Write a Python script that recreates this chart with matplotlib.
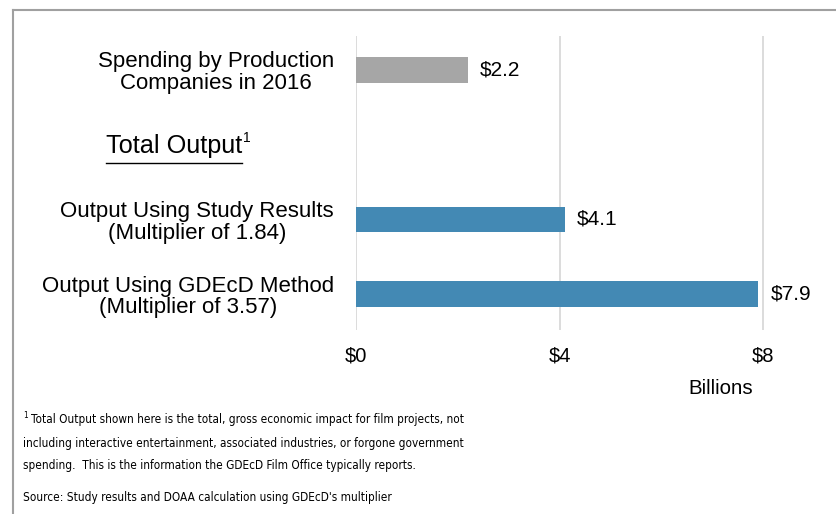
import matplotlib
matplotlib.use('Agg')
import matplotlib.pyplot as plt
from matplotlib.lines import Line2D
from matplotlib import font_manager as fm

plt.rcParams['font.family'] = ['Liberation Sans', 'DejaVu Sans']

# 数据
categories = ['Spending by Production\nCompanies in 2016',
              '',
              'Output Using Study Results\n(Multiplier of 1.84)',
              'Output Using GDEcD Method\n(Multiplier of 3.57)']
values = [2.2, None, 4.1, 7.9]
value_labels = ['$2.2', '', '$4.1', '$7.9']
bar_colors = ['#A6A6A6', None, '#4389B4', '#4389B4']
x_ticks = [0, 4, 8]
x_tick_labels = ['$0', '$4', '$8']

footnote_lines = ['Total Output shown here is the total, gross economic impact for film projects, not',
                  'including interactive entertainment, associated industries, or forgone government',
                  'spending.  This is the information the GDEcD Film Office typically reports.']
source = "Source: Study results and DOAA calculation using GDEcD's multiplier"

# 脚注字体：优先用窄体
foot_family, foot_stretch, foot_size = 'Liberation Sans', 'normal', 9.0
names = {f.name for f in fm.fontManager.ttflist}
condensed = [f.name for f in fm.fontManager.ttflist
             if 'ondensed' in str(f.stretch) or 'Condensed' in f.fname]
if 'Liberation Sans Narrow' in names:
    foot_family, foot_size = 'Liberation Sans Narrow', 10.8
elif any(n == 'DejaVu Sans' for n in condensed):
    foot_family, foot_stretch, foot_size = 'DejaVu Sans', 'condensed', 8.5

W, H = 837, 514
fig = plt.figure(figsize=(W / 100, H / 100), dpi=100)
ax = fig.add_axes([356 / W, 1 - 330 / H, 444 / W, 294 / H])

ypos = list(range(len(categories)))
for y, v, c in zip(ypos, values, bar_colors):
    if v is None:
        continue
    ax.barh(y, v, height=0.34, color=c, zorder=3)

for y, v, lab in zip(ypos, values, value_labels):
    if v is None:
        continue
    ax.text(v + 0.24, y, lab, ha='left', va='center', fontsize=15)

ax.set_xlim(0, 8.72)
ax.set_ylim(3.48, -0.455)
ax.set_xticks(x_ticks)
ax.set_xticklabels(x_tick_labels, fontsize=14.5)
ax.set_yticks(ypos)
ax.set_yticklabels(categories, fontsize=16, linespacing=1.05)
for t in ax.get_yticklabels():
    t.set_multialignment('center')
ax.tick_params(axis='both', length=0)
ax.tick_params(axis='y', pad=16)
ax.tick_params(axis='x', pad=12)
ax.grid(axis='x', color='#D9D9D9', linewidth=1.3, zorder=0)
for s in ax.spines.values():
    s.set_visible(False)

# 小标题 Total Output（带下划线）
fig.text(106 / W, 1 - 146 / H, 'Total Output', ha='left', va='center', fontsize=18.2)
fig.text(243 / W, 1 - 138 / H, '1', ha='left', va='center', fontsize=10)
fig.add_artist(Line2D([106 / W, 242 / W], [1 - 163 / H, 1 - 163 / H],
                      color='black', linewidth=1))

fig.text(721 / W, 1 - 388 / H, 'Billions', ha='center', va='center', fontsize=14.8)

# 脚注
fig.text(23 / W, 1 - 416 / H, '1', ha='left', va='center', fontsize=foot_size * 0.7,
         family=foot_family, stretch=foot_stretch)
for i, line in enumerate(footnote_lines):
    x0 = 31 if i == 0 else 23
    fig.text(x0 / W, 1 - (420 + 23 * i) / H, line, ha='left', va='center',
             fontsize=foot_size, family=foot_family, stretch=foot_stretch)
fig.text(23 / W, 1 - 497 / H, source, ha='left', va='center',
         fontsize=foot_size, family=foot_family, stretch=foot_stretch)

# 外框
fig.add_artist(Line2D([13 / W, 1], [1 - 10 / H, 1 - 10 / H], color='#A0A0A0', linewidth=1.5))
fig.add_artist(Line2D([13 / W, 13 / W], [0, 1 - 10 / H], color='#A0A0A0', linewidth=1.5))

fig.savefig('out.png', dpi=100)
